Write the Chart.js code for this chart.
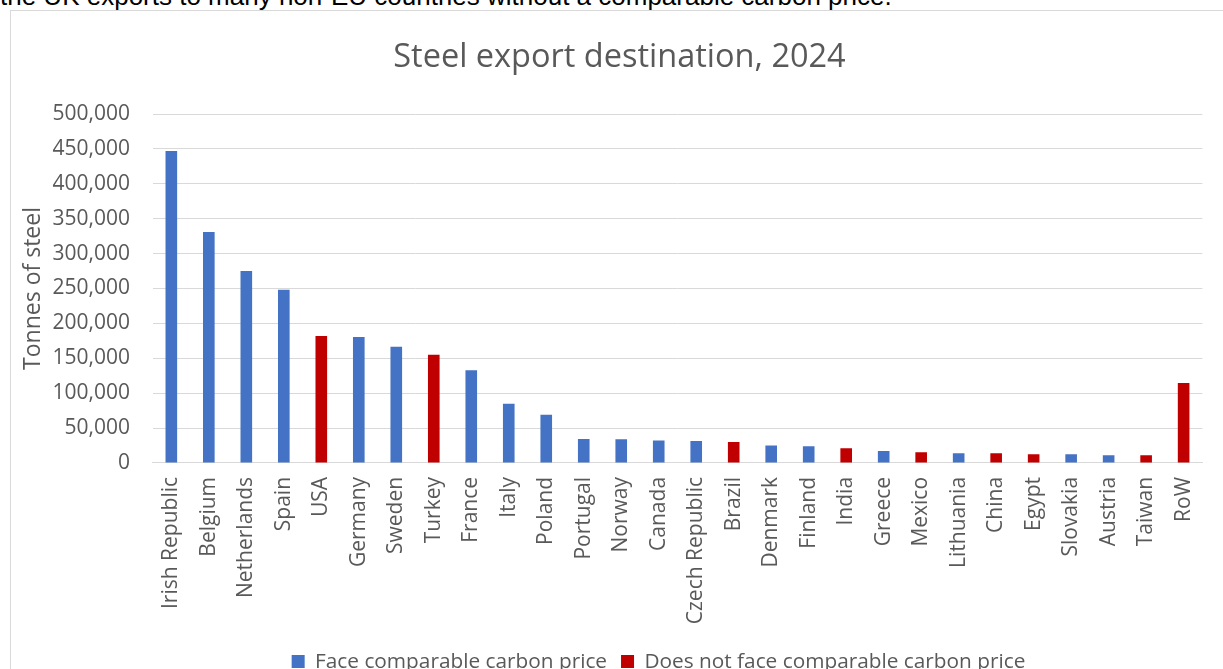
<!DOCTYPE html>
<html>
<head>
<meta charset="utf-8">
<script src="https://cdn.jsdelivr.net/npm/chart.js@4.4.1/dist/chart.umd.min.js"></script>
<style>
  html, body { margin: 0; padding: 0; background: #fff; overflow: hidden; }
  body { width: 1223px; height: 669px; position: relative; }
  #lead {
    position: absolute; left: 0; top: -19px; white-space: nowrap;
    font-family: "Liberation Sans", Arial, sans-serif; font-size: 26px; color: #000;
  }
  #box {
    position: absolute; left: 10px; top: 10px; width: 1230px; height: 700px;
    border: 1px solid #d9d9d9; box-sizing: border-box;
  }
  #wrap { position: absolute; left: 10px; top: 11px; width: 1213px; height: 669px; }
</style>
</head>
<body>
<div id="lead">the UK exports to many non-EU countries without a comparable carbon price.</div>
<div id="box"></div>
<div id="wrap"><canvas id="chart"></canvas></div>
<script>
document.addEventListener("DOMContentLoaded", function () {

    // === Data (tonnes of steel) ===
    const countries = [
        "Irish Republic", "Belgium", "Netherlands", "Spain", "USA", "Germany", "Sweden",
        "Turkey", "France", "Italy", "Poland", "Portugal", "Norway", "Canada",
        "Czech Republic", "Brazil", "Denmark", "Finland", "India", "Greece", "Mexico",
        "Lithuania", "China", "Egypt", "Slovakia", "Austria", "Taiwan", "RoW"
    ];
    const tonnes = [
        447000, 331000, 275000, 248000, 182000, 180500, 166500,
        155000, 133000, 85000, 69000, 34500, 34000, 32000,
        31500, 30000, 25000, 24000, 21000, 17000, 15500,
        14000, 14000, 12500, 12500, 11000, 11000, 114500
    ];
    // true = faces a comparable carbon price
    const facesCarbonPrice = [
        true, true, true, true, false, true, true,
        false, true, true, true, true, true, true,
        true, false, true, true, false, true, false,
        true, false, false, true, true, false, false
    ];
    const yTicks = [0, 50000, 100000, 150000, 200000, 250000, 300000, 350000, 400000, 450000, 500000];

    const faceData = tonnes.map((v, i) => facesCarbonPrice[i] ? v : null);
    const notData = tonnes.map((v, i) => facesCarbonPrice[i] ? null : v);

    const font = "'Open Sans', 'Noto Sans', sans-serif";
    const grey = '#595959';

    // the original chart box is wider than the crop, so title/legend sit a bit right
    const nudgeBoxes = {
        id: 'nudgeBoxes',
        afterLayout(chart) {
            const t = chart.titleBlock, l = chart.legend;
            if (t) { t.left += 5; t.right += 5; }
            if (l) { l.left += 44; l.right += 44; l.top += 2; l.bottom += 2; }
        }
    };

    new Chart(document.getElementById("chart"), {
        type: "bar",
        data: {
            labels: countries,
            datasets: [
                { label: "Face comparable carbon price", data: faceData, backgroundColor: '#4472C4' },
                { label: "Does not face comparable carbon price", data: notData, backgroundColor: '#C00000' }
            ]
        },
        plugins: [nudgeBoxes],
        options: {
            responsive: true,
            maintainAspectRatio: false,
            animation: false,
            layout: { padding: { left: 6, right: 10, top: 0, bottom: 0 } },
            datasets: { bar: { grouped: false, barPercentage: 0.31, categoryPercentage: 1 } },
            plugins: {
                title: {
                    display: true,
                    text: "Steel export destination, 2024",
                    color: grey,
                    font: { family: font, size: 32.5, weight: 'normal' },
                    padding: { top: 27, bottom: 37 }
                },
                legend: {
                    position: 'bottom',
                    labels: {
                        color: grey,
                        font: { family: font, size: 20.8 },
                        boxWidth: 13, boxHeight: 13,
                        padding: 14
                    }
                },
                tooltip: { enabled: false }
            },
            scales: {
                x: {
                    afterFit: (axis) => { axis.height -= 3; },
                    ticks: {
                        color: grey,
                        font: { family: font, size: 21 },
                        maxRotation: 90, minRotation: 90,
                        autoSkip: false,
                        padding: 14
                    },
                    grid: { display: false, drawTicks: false },
                    border: { display: true, color: '#d9d9d9', width: 1 }
                },
                y: {
                    min: 0, max: 500000,
                    afterBuildTicks: (axis) => { axis.ticks = yTicks.map(v => ({ value: v })); },
                    afterFit: (axis) => { axis.width -= 17.5; },
                    ticks: {
                        color: grey,
                        font: { family: font, size: 21 },
                        padding: 22.5,
                        callback: (v) => v.toLocaleString('en-GB')
                    },
                    grid: { color: '#d9d9d9', lineWidth: 1, drawTicks: false },
                    border: { display: false },
                    title: {
                        display: true, text: "Tonnes of steel", color: grey,
                        font: { family: font, size: 23 }, padding: { bottom: 0 }
                    }
                }
            }
        }
    });
});
</script>
</body>
</html>
